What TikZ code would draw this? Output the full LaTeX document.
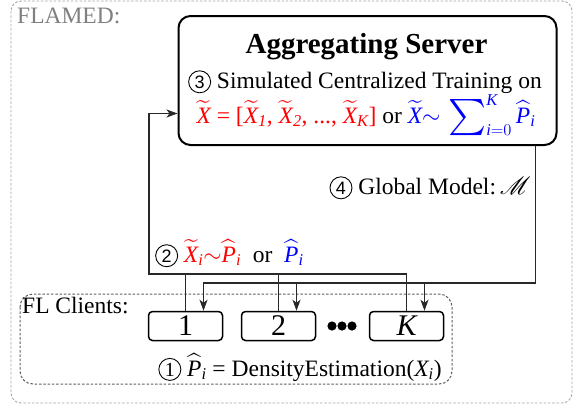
\RequirePackage{fix-cm}
\documentclass[tikz,border=0pt]{standalone}
\usepackage{amsmath}
\usepackage{graphicx}
\usepackage{mathrsfs}
\usepackage{fontspec}
\setmainfont{Liberation Serif}
\newfontfamily\digitsans{Liberation Sans}
\usetikzlibrary{arrows.meta}

\definecolor{framegray}{RGB}{165,165,165}
\definecolor{innergray}{RGB}{95,95,95}
\definecolor{labelgray}{RGB}{128,128,128}
\definecolor{linegray}{RGB}{40,40,40}

% italic letters in formulas, taken from the text face
\newcommand\itx[1]{\textit{#1}}
% circled step numbers (sans digit, or serif digit with the starred form)
\newcommand\cnumbox[2]{\tikz[baseline=(cd.base)]\node[circle, draw, line width=0.9pt, inner sep=0pt, minimum size=22pt, font=#1] (cd) {#2};}
\newcommand\cnum[1]{\cnumbox{\fontsize{18}{18}\digitsans}{#1}}
\newcommand\cnumserif[1]{\cnumbox{\fontsize{20}{20}\rmfamily}{#1}}
% enlarged summation sign with side limits
\newcommand\bigsum{\mathop{\vcenter{\hbox{\scalebox{1.45}{$\sum$}}}}\nolimits}

\tikzset{
  base font/.style={font=\fontsize{23.5}{28}\selectfont},
  outerframe/.style={draw=framegray, dashed, dash pattern=on 2.5pt off 1.8pt, line width=0.9pt, rounded corners=10pt},
  innerframe/.style={draw=innergray, dashed, dash pattern=on 2.5pt off 1.8pt, line width=1pt, rounded corners=13pt},
  serverbox/.style={draw=black, line width=2pt, rounded corners=12pt, minimum width=378pt, minimum height=129pt, inner sep=0pt},
  clientbox/.style={draw=black, line width=1.5pt, rounded corners=4pt, minimum width=74pt, minimum height=29pt, inner sep=0pt, font=\fontsize{30}{30}\selectfont},
  link/.style={draw=linegray, line width=1.1pt},
  arrowlink/.style={link, -{Stealth[length=11pt, width=8pt, inset=3pt]}},
  txt/.style={base font, inner sep=0pt},
}

\begin{document}
\begin{tikzpicture}[x=1pt, y=-1pt]
\useasboundingbox (0,0) rectangle (575,407);

% frames
\draw[outerframe] (11,1) rectangle (572,403);
\draw[innerframe] (20,294) rectangle (452,384);
\node[txt, anchor=base west, text=labelgray] (flamed) at (17,23) {FLAMED:};
\node[txt, anchor=base west] (fllabel) at (22,313) {FL Clients:};

% aggregating server
\node[serverbox] (srv) at (367.5,80.5) {};
\node[txt, anchor=base, font=\bfseries\fontsize{29}{30}\selectfont] (srvtitle) at (366.5,53) {Aggregating Server};
\node[txt, anchor=base] (srvstep) at (365,88) {\cnum{3} Simulated Centralized Training on};
\node[txt, anchor=base] (srvdata) at (366,123) {{\color{red}$\widetilde{\itx{X}}$ = [$\widetilde{\itx{X}}_{\itx{1}}$, $\widetilde{\itx{X}}_{\itx{2}}$, ..., $\widetilde{\itx{X}}_{\itx{K}}$]} or {\color{blue}$\widetilde{\itx{X}}{\sim}\,\bigsum_{\itx{i}=0}^{\itx{K}}\widehat{\itx{P}}_{\itx{i}}$}};

% clients
\node[clientbox] (c1) at (185.5,326) {1};
\node[clientbox] (c2) at (278.5,326) {2};
\node[clientbox] (cK) at (406.5,326) {\itshape K};
\foreach \dx in {332,342,352}
  \fill (\dx,326) circle (4.6pt);
\node[txt, anchor=base] (density) at (300,376) {\cnumserif{1} $\widehat{\itx{P}}_{\itx{i}}$ = DensityEstimation($\itx{X}_{\itx{i}}$)};

% upload: client distributions to the server
\coordinate (upbus) at (149,274);
\draw[arrowlink] (cK.north) |- (upbus) |- ([yshift=-33pt]srv.west);
\draw[link] (c1.north) -- (c1.north |- upbus);
\draw[link] (c2.north) -- (c2.north |- upbus);

% download: global model to the clients
\coordinate (downbus) at (204,283);
\draw[arrowlink] ([xshift=-22pt]srv.south east) |- ([xshift=18pt]c1.north |- downbus) -- ([xshift=18pt]c1.north);
\draw[arrowlink] ([xshift=18pt]c2.north |- downbus) -- ([xshift=18pt]c2.north);
\draw[arrowlink] ([xshift=18pt]cK.north |- downbus) -- ([xshift=18pt]cK.north);

% connector labels
\node[txt, anchor=base east] (modellabel) at (531,194) {\cnum{4} Global Model:\,$\mathscr{M}$};
\node[txt, anchor=base west] (uplabel) at (155,262) {\cnum{2}\ {\color{red}$\widetilde{\itx{X}}_{\itx{i}}{\sim}\widehat{\itx{P}}_{\itx{i}}$}\ \ or\ \ {\color{blue}$\widehat{\itx{P}}_{\itx{i}}$}};
\end{tikzpicture}
\end{document}
